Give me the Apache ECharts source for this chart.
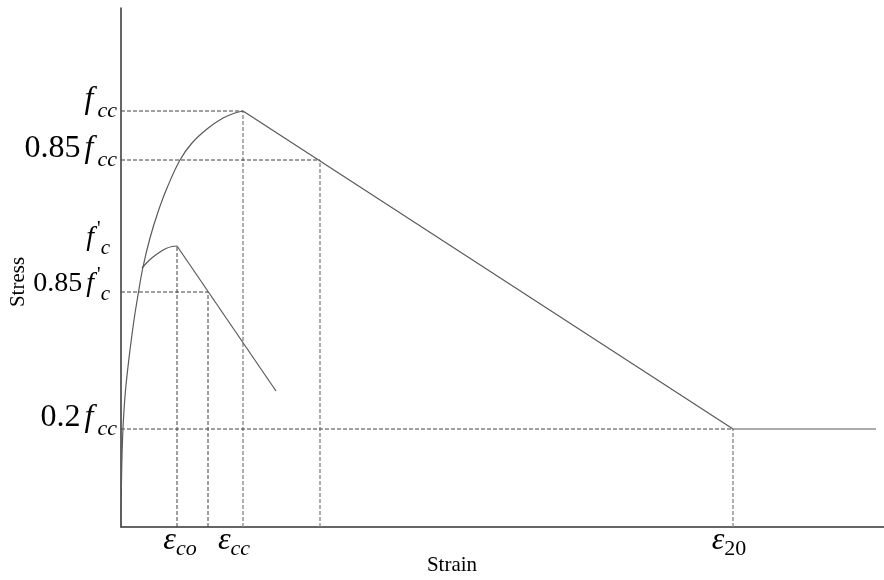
<!DOCTYPE html>
<html>
<head>
<meta charset="utf-8">
<script src="https://cdn.jsdelivr.net/npm/echarts@6/dist/echarts.min.js"></script>
<style>
  html, body { margin: 0; padding: 0; background: #fff; }
  #chart { width: 884px; height: 580px; }
</style>
</head>
<body>
<div id="chart"></div>
<script>
// ---- Data ----
// Confined concrete: ascending branch
const confinedAscStrain = [0, 0.00005, 0.00015, 0.0003, 0.0005, 0.0009, 0.0013, 0.0017, 0.0022, 0.0029, 0.0037, 0.0046, 0.0059, 0.0071, 0.0086, 0.0102, 0.0114, 0.0122];
const confinedAscStress = [0, 4.7, 8.7, 11.7, 14.2, 17.7, 20.7, 23.2, 26.0, 28.9, 31.5, 33.9, 36.7, 38.4, 39.8, 40.9, 41.4, 41.6];
// Confined concrete: linear descending branch + residual plateau
const confinedDescStrain = [0.0122, 0.0612, 0.0755];
const confinedDescStress = [41.6, 9.8, 9.8];
// Unconfined concrete
const unconfinedAscStrain = [0.0021, 0.0026, 0.0032, 0.0039, 0.0045, 0.0051, 0.0056];
const unconfinedAscStress = [25.9, 26.45, 27.0, 27.5, 27.85, 28.05, 28.1];
const unconfinedDescStrain = [0.0056, 0.0155];
const unconfinedDescStress = [28.1, 13.6];

// Key stress levels and their labels
const stressLabelValues = [41.6, 36.7, 9.8, 28.1, 23.5];   // fcc, 0.85fcc, 0.2fcc, f'c, 0.85f'c
const stressLabelTexts = ['{f|f}{s|cc}', '{n|0.85}{f|f}{s|cc}', '{n|0.2}{f|f}{s|cc}', '{f2|f}{p|\'}{c|c}', '{n2|0.85}{f2|f}{p|\'}{c|c}'];
const stressLabelIsConfined = [true, true, true, false, false];
// Key strain values and their labels
const strainTickValues = [0.0056, 0.0122, 0.0612];  // eps_co, eps_cc, eps_20
const strainTickLabels = ['{el|ε}{s|co}', '{e|ε}{sr|cc}', '{e|ε}{dr|20}'];

// Dashed guide lines: [strain, stress] at each key point
const guidePointStrain = [0.0122, 0.0199, 0.0087, 0.0612, 0.0056];
const guidePointStress = [41.6, 36.7, 23.5, 9.8, 28.1];
const guideHorizontal = [true, true, true, true, false];
const guideGray = [true, true, false, true, false];

const xMax = 0.0763;
const yMax = 51.9;

const serif = 'Liberation Serif';
const curveColor = '#5a5a5a';

function pick(values, labels) {
  return function (v) {
    for (let i = 0; i < values.length; i++) {
      if (Math.abs(v - values[i]) < 1e-7) return labels[i];
    }
    return '';
  };
}
function zip(xs, ys) { return xs.map((x, i) => [x, ys[i]]); }

const series = [];
// Guide lines
guidePointStrain.forEach((sx, i) => {
  const sy = guidePointStress[i];
  const gray = guideGray[i];
  const ls = { color: gray ? '#8c8c8c' : '#404040', width: gray ? 1.4 : 1, type: [4, 2] };
  const lsH = { color: '#404040', width: 1, type: [4, 2] };
  if (guideHorizontal[i]) {
    series.push({ type: 'line', data: [[0, sy], [sx, sy]], symbol: 'none', lineStyle: lsH, silent: true, z: 1 });
  }
  series.push({ type: 'line', data: [[sx, 0], [sx, sy]], symbol: 'none', lineStyle: ls, silent: true, z: 1 });
});
// Curves
series.push({ type: 'line', data: zip(confinedAscStrain, confinedAscStress), symbol: 'none', smooth: 0.4, lineStyle: { color: curveColor, width: 1.2 }, z: 3 });
series.push({ type: 'line', data: zip(confinedDescStrain, confinedDescStress), symbol: 'none', lineStyle: { color: curveColor, width: 1.2 }, z: 3 });
series.push({ type: 'line', data: zip(unconfinedAscStrain, unconfinedAscStress), symbol: 'none', smooth: 0.4, lineStyle: { color: curveColor, width: 1.2 }, z: 3 });
series.push({ type: 'line', data: zip(unconfinedDescStrain, unconfinedDescStress), symbol: 'none', lineStyle: { color: curveColor, width: 1.2 }, z: 3 });

const richY = {
  n: { fontFamily: serif, fontSize: 32, color: '#000', lineHeight: 40, padding: [0, 0, 22, 0] },
  f: { fontFamily: serif, fontStyle: 'italic', fontSize: 32, color: '#000', lineHeight: 40, padding: [0, 4, 22, 4] },
  s: { fontFamily: serif, fontStyle: 'italic', fontSize: 22, color: '#000', lineHeight: 40, padding: [0, 0, 0, 0] },
  n2: { fontFamily: serif, fontSize: 28, color: '#000', lineHeight: 42, padding: [0, 0, 17, 0] },
  f2: { fontFamily: serif, fontStyle: 'italic', fontSize: 28, color: '#000', lineHeight: 42, padding: [0, 3, 17, 4] },
  p: { fontFamily: serif, fontSize: 20, color: '#000', lineHeight: 42, padding: [0, 0, 32, 0] },
  c: { fontFamily: serif, fontStyle: 'italic', fontSize: 21, color: '#000', lineHeight: 42, padding: [5, 0, 0, 0] }
};

// One y axis per key stress label (avoids automatic overlap hiding)
const yAxes = stressLabelValues.map((v, i) => ({
  type: 'value', min: 0, max: yMax, position: 'left', offset: 0,
  axisLine: { show: i === 0, lineStyle: { color: '#333', width: 1.5 } },
  axisTick: { show: false },
  splitLine: { show: false },
  axisLabel: {
    customValues: [v],
    margin: stressLabelIsConfined[i] ? 4 : 11,
    hideOverlap: false,
    formatter: pick([v], [stressLabelTexts[i]]),
    rich: richY
  }
}));

const chart = echarts.init(document.getElementById('chart'), null, { renderer: 'canvas' });
chart.setOption({
  animation: false,
  backgroundColor: '#fff',
  grid: { left: 121, right: 0, top: 8, bottom: 53, containLabel: false },
  xAxis: {
    type: 'value', min: 0, max: xMax,
    axisLine: { show: true, lineStyle: { color: '#333', width: 1.5 } },
    axisTick: { show: false },
    splitLine: { show: false },
    axisLabel: {
      customValues: strainTickValues,
      margin: 0,
      hideOverlap: false,
      formatter: pick(strainTickValues, strainTickLabels),
      rich: {
        e: { fontFamily: serif, fontStyle: 'italic', fontSize: 32, color: '#000', lineHeight: 40, padding: [0, 0, 12, 0] },
        el: { fontFamily: serif, fontStyle: 'italic', fontSize: 32, color: '#000', lineHeight: 40, padding: [0, 0, 12, 6] },
        s: { fontFamily: serif, fontStyle: 'italic', fontSize: 22, color: '#000', lineHeight: 40, padding: [5, 0, 0, 0] },
        sr: { fontFamily: serif, fontStyle: 'italic', fontSize: 22, color: '#000', lineHeight: 40, padding: [5, 18, 0, 0] },
        dr: { fontFamily: serif, fontSize: 22, color: '#000', lineHeight: 40, padding: [5, 8, 0, 0] }
      }
    }
  },
  yAxis: yAxes,
  graphic: [
    { type: 'text', x: 18, y: 282, rotation: Math.PI / 2,
      style: { text: 'Stress', x: 0, y: 0, align: 'center', verticalAlign: 'middle', font: '21px "Liberation Serif"', fill: '#000' } },
    { type: 'text', x: 452, y: 565,
      style: { text: 'Strain', x: 0, y: 0, align: 'center', verticalAlign: 'middle', font: '21px "Liberation Serif"', fill: '#000' } }
  ],
  series: series
});
</script>
</body>
</html>
